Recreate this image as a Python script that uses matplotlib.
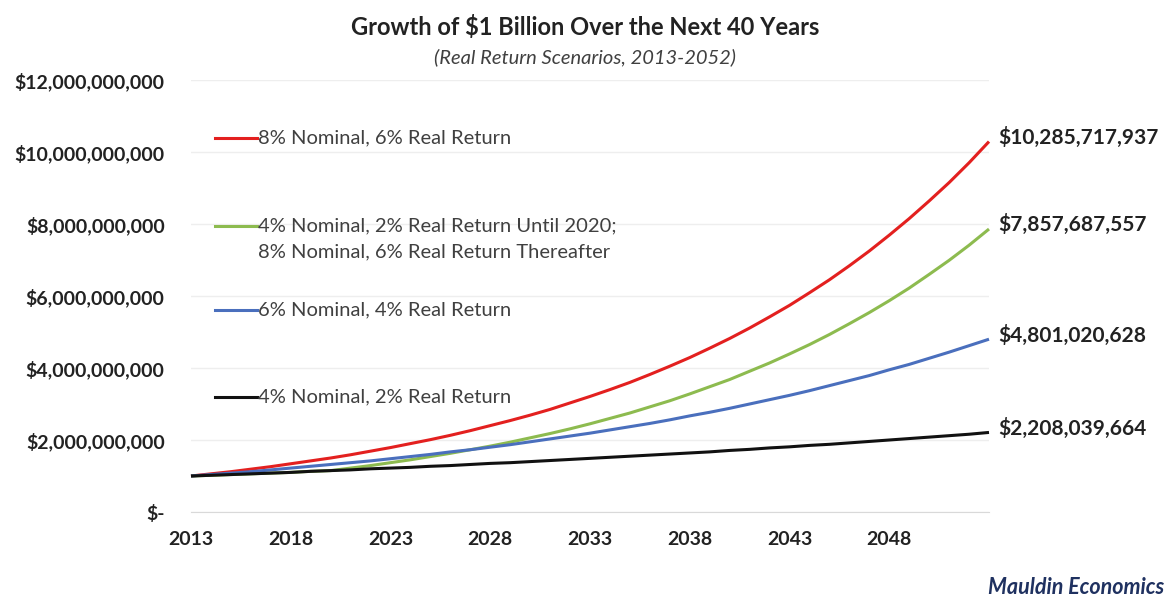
import matplotlib
matplotlib.use("Agg")
import matplotlib.pyplot as plt

plt.rcParams['font.family'] = ['Lato', 'DejaVu Sans']

years = list(range(2013, 2054))

# values in billions of dollars
real_6 = [1.00, 1.06, 1.12, 1.19, 1.26, 1.34, 1.42, 1.50, 1.59, 1.69,
          1.79, 1.90, 2.01, 2.13, 2.26, 2.40, 2.54, 2.69, 2.85, 3.03,
          3.21, 3.40, 3.60, 3.82, 4.05, 4.29, 4.55, 4.82, 5.11, 5.42,
          5.74, 6.09, 6.45, 6.84, 7.25, 7.69, 8.15, 8.64, 9.15, 9.70, 10.29]
real_2_then_6 = [1.00, 1.02, 1.04, 1.06, 1.08, 1.10, 1.13, 1.15, 1.22, 1.29,
                 1.37, 1.45, 1.54, 1.63, 1.73, 1.83, 1.94, 2.06, 2.18, 2.31,
                 2.45, 2.60, 2.75, 2.92, 3.09, 3.28, 3.48, 3.68, 3.91, 4.14,
                 4.39, 4.65, 4.93, 5.23, 5.54, 5.87, 6.22, 6.60, 6.99, 7.41, 7.86]
real_4 = [1.00, 1.04, 1.08, 1.12, 1.17, 1.22, 1.27, 1.32, 1.37, 1.42,
          1.48, 1.54, 1.60, 1.67, 1.73, 1.80, 1.87, 1.95, 2.03, 2.11,
          2.19, 2.28, 2.37, 2.46, 2.56, 2.67, 2.77, 2.88, 3.00, 3.12,
          3.24, 3.37, 3.51, 3.65, 3.79, 3.95, 4.10, 4.27, 4.44, 4.62, 4.80]
real_2 = [1.00, 1.02, 1.04, 1.06, 1.08, 1.10, 1.13, 1.15, 1.17, 1.20,
          1.22, 1.24, 1.27, 1.29, 1.32, 1.35, 1.37, 1.40, 1.43, 1.46,
          1.49, 1.52, 1.55, 1.58, 1.61, 1.64, 1.67, 1.71, 1.74, 1.78,
          1.81, 1.85, 1.88, 1.92, 1.96, 2.00, 2.04, 2.08, 2.12, 2.16, 2.21]

series = [real_6, real_2_then_6, real_4, real_2]
colors = ['#e3201f', '#8dbb4f', '#4a6fbd', '#111111']
legend_labels = [['8% Nominal, 6% Real Return'],
                 ['4% Nominal, 2% Real Return Until 2020;', '8% Nominal, 6% Real Return Thereafter'],
                 ['6% Nominal, 4% Real Return'],
                 ['4% Nominal, 2% Real Return']]
end_labels = ['$10,285,717,937', '$7,857,687,557', '$4,801,020,628', '$2,208,039,664']
legend_y = [0.866, 0.662, 0.468, 0.266]

fig = plt.figure(figsize=(11.7, 6), dpi=100)
ax = fig.add_axes([191 / 1170, 88 / 600, 798 / 1170, 432 / 600])

for vals, c, lines, ly, end in zip(series, colors, legend_labels, legend_y, end_labels):
    yv = [v * 1e9 for v in vals]
    ax.plot(years, yv, color=c, lw=2.2, clip_on=False, solid_capstyle='butt')
    ax.plot([0.030, 0.083], [ly, ly], color=c, lw=2.2, transform=ax.transAxes)
    for i, line in enumerate(lines):
        ax.text(0.084, ly - i * 0.060, line, transform=ax.transAxes, ha='left', va='center',
                fontsize=14.5, color='#404040')
    ax.annotate(end, (years[-1], yv[-1]), xytext=(7, 3), textcoords='offset points',
                ha='left', va='center', fontsize=15, fontweight='bold', color='#222222')

ax.set_xlim(2013, 2053)
ax.set_ylim(0, 12e9)
ax.set_xticks(list(range(2013, 2049, 5)))
yt = [i * 2e9 for i in range(7)]
ax.set_yticks(yt)
ax.set_yticklabels(['$-'] + ['${:,.0f}'.format(v) for v in yt[1:]])
for t in ax.get_xticklabels() + ax.get_yticklabels():
    t.set_fontweight('bold')
    t.set_fontsize(14)
    t.set_color('#222222')
ax.tick_params(axis='y', length=0, pad=19)
ax.tick_params(axis='x', length=0, pad=14)
ax.yaxis.grid(True, color='#eeeeee', lw=1)
ax.set_axisbelow(True)
for s in ['top', 'right', 'left']:
    ax.spines[s].set_visible(False)
ax.spines['bottom'].set_color('#d9d9d9')

fig.text(0.5, 1 - 27 / 600, 'Growth of $1 Billion Over the Next 40 Years', ha='center', va='center',
         fontsize=17, fontweight='bold', color='#222222')
fig.text(0.5, 1 - 57 / 600, '(Real Return Scenarios, 2013-2052)', ha='center', va='center',
         fontsize=14.5, fontstyle='italic', color='#404040')
fig.text(1164 / 1170, 1 - 587 / 600, 'Mauldin Economics', ha='right', va='center',
         fontsize=15.5, fontweight='bold', fontstyle='italic', color='#1f3160')

fig.savefig('out.png', dpi=100)
